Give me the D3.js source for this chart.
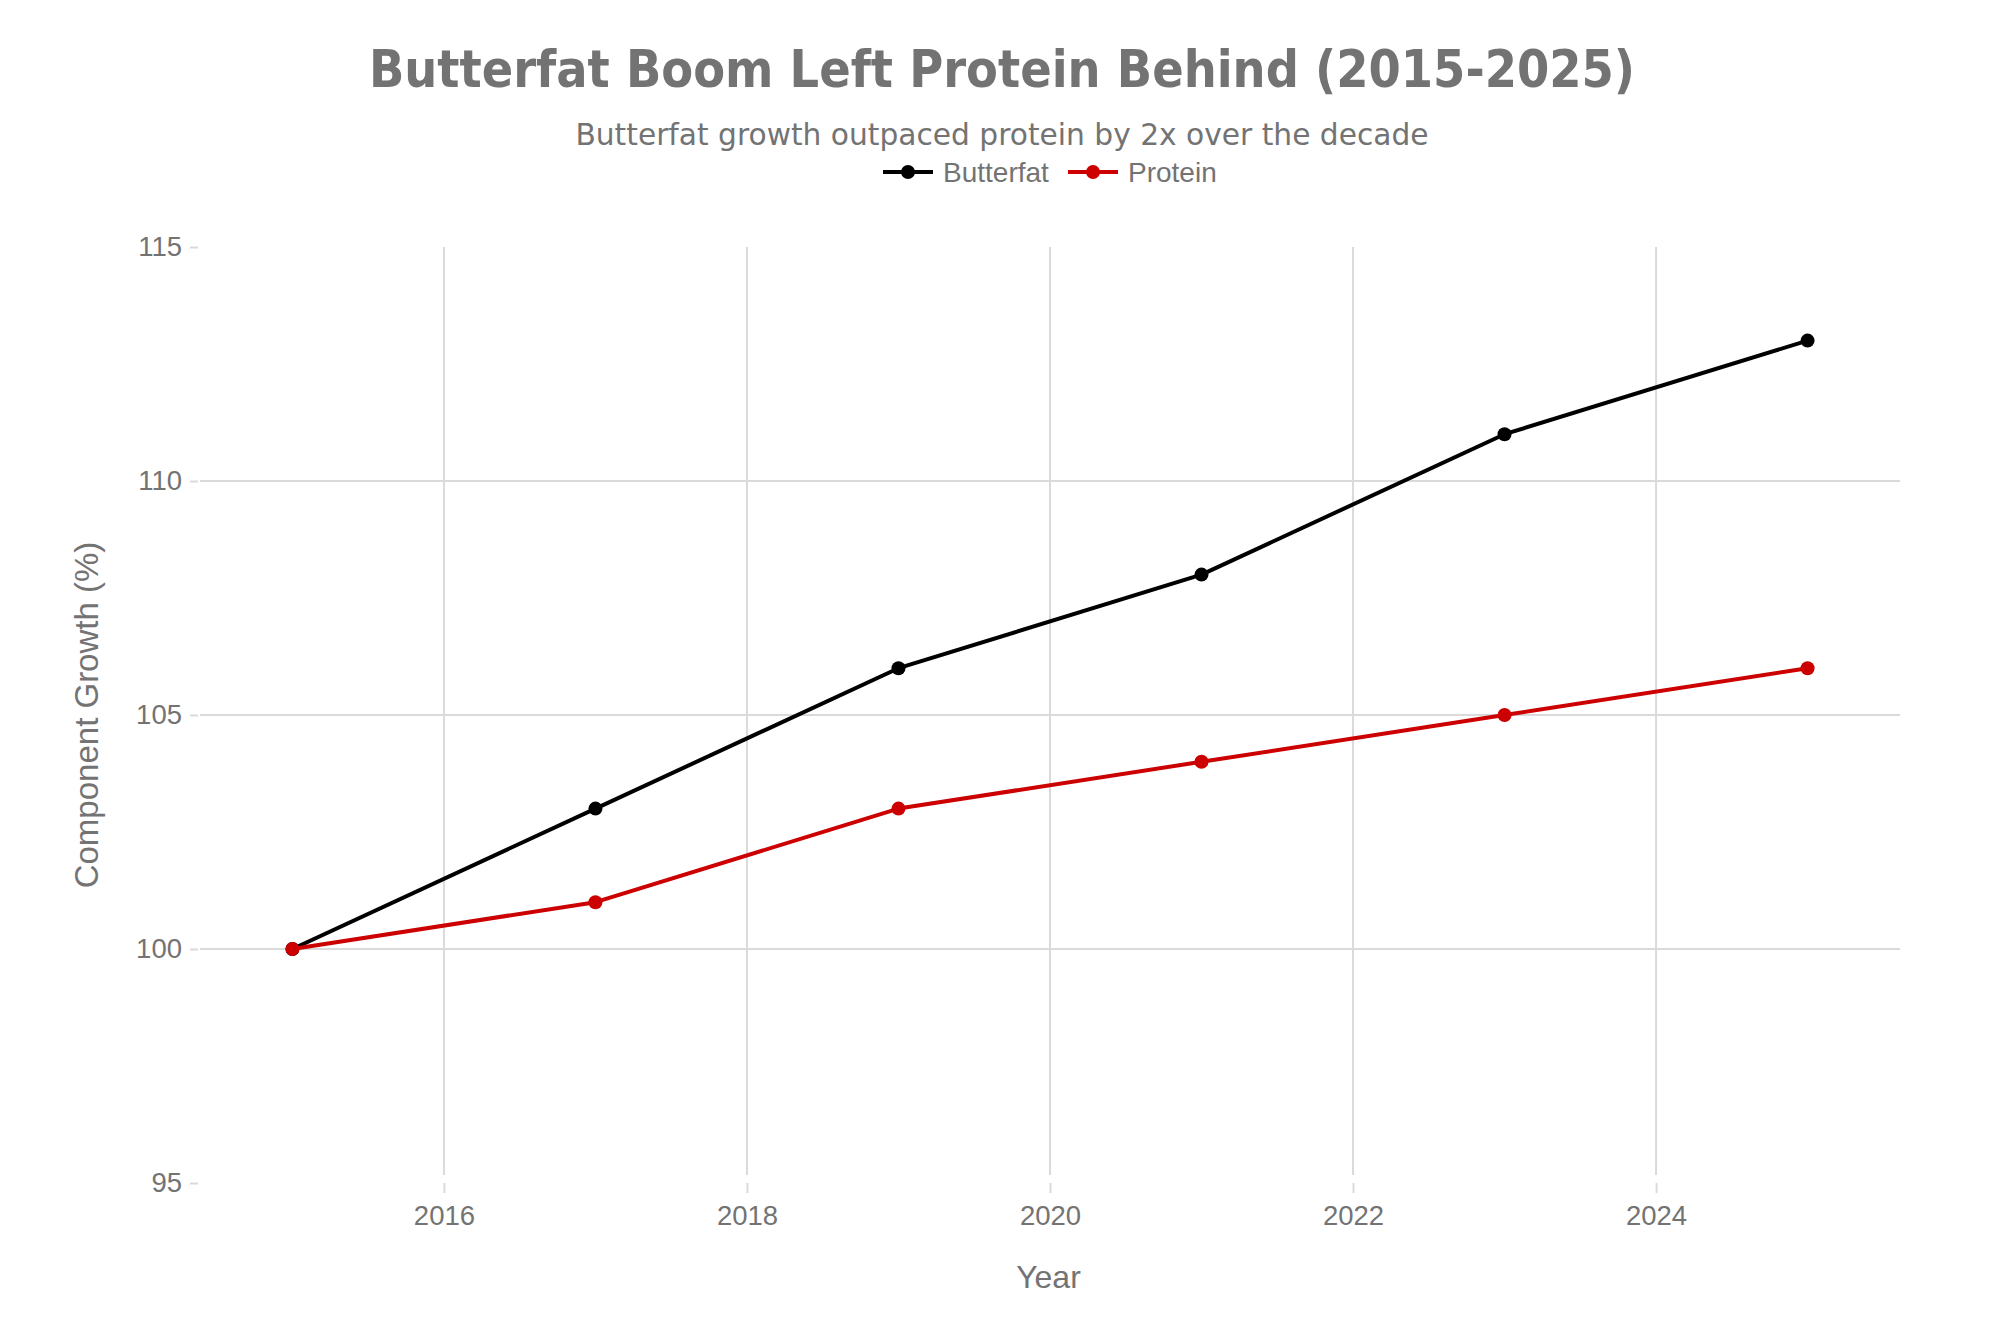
<!DOCTYPE html>
<html>
<head>
<meta charset="utf-8">
<script src="https://cdn.jsdelivr.net/npm/d3@7"></script>
<style>
  html, body { margin: 0; padding: 0; background: #fff; }
  svg { display: block; }
</style>
</head>
<body>
<svg id="chart"></svg>
<script>
// data
const years = [2015, 2017, 2019, 2021, 2023, 2025];
const butterfat = [100, 103, 106, 108, 111, 113];
const protein = [100, 101, 103, 104, 105, 106];
const yTicks = [95, 100, 105, 110, 115];
const xTicks = [2016, 2018, 2020, 2022, 2024];

const W = 2000, H = 1333;
const margin = { top: 247, right: 100, bottom: 150, left: 200 };
const textColor = '#737373';
const sans = '"Liberation Sans", Arial, Helvetica, sans-serif';

const svg = d3.select('#chart').attr('width', W).attr('height', H);

const x = d3.scaleLinear()
  .domain([2014.39, 2025.61])
  .range([margin.left, W - margin.right]);

const y = d3.scaleLinear()
  .domain([95, 115])
  .range([H - margin.bottom, margin.top]);

// grid
svg.append('g')
  .selectAll('line')
  .data(xTicks)
  .join('line')
  .attr('x1', d => x(d)).attr('x2', d => x(d))
  .attr('y1', y(115)).attr('y2', y(95) - 8)
  .attr('stroke', '#dadada').attr('stroke-width', 2);

svg.append('g')
  .selectAll('line')
  .data(yTicks.filter(d => d > 95 && d < 115))
  .join('line')
  .attr('x1', margin.left).attr('x2', W - margin.right)
  .attr('y1', d => y(d)).attr('y2', d => y(d))
  .attr('stroke', '#dadada').attr('stroke-width', 2);

// axes
const yAxis = svg.append('g')
  .attr('transform', `translate(${margin.left - 2},0)`)
  .call(d3.axisLeft(y).tickValues(yTicks).tickSize(8).tickPadding(8));
const xAxis = svg.append('g')
  .attr('transform', `translate(0,${y(95)})`)
  .call(d3.axisBottom(x).tickValues(xTicks).tickFormat(d3.format('d')).tickSize(10).tickPadding(12));

[yAxis, xAxis].forEach(g => {
  g.select('.domain').remove();
  g.selectAll('.tick line').attr('stroke', '#dadada').attr('stroke-width', 2);
  g.selectAll('.tick text')
    .attr('fill', textColor)
    .style('font-family', sans)
    .style('font-size', '27.5px');
});

// axis titles
svg.append('text')
  .attr('x', x(2019.97) + 3).attr('y', 1288)
  .attr('text-anchor', 'middle')
  .attr('fill', textColor)
  .style('font-family', sans).style('font-size', '32px')
  .text('Year');

svg.append('text')
  .attr('transform', `translate(98,${(y(95) + y(115)) / 2}) rotate(-90)`)
  .attr('text-anchor', 'middle')
  .attr('fill', textColor)
  .style('font-family', sans).style('font-size', '33px')
  .text('Component Growth (%)');

// series
const series = [
  { name: 'Butterfat', values: butterfat, color: '#000000' },
  { name: 'Protein', values: protein, color: '#cc0000' }
];

const line = d3.line()
  .x((d, i) => x(years[i]))
  .y(d => y(d));

series.forEach(s => {
  svg.append('path')
    .datum(s.values)
    .attr('d', line)
    .attr('fill', 'none')
    .attr('stroke', s.color)
    .attr('stroke-width', 4)
    .attr('stroke-linejoin', 'round');

  svg.append('g')
    .selectAll('circle')
    .data(s.values)
    .join('circle')
    .attr('cx', (d, i) => x(years[i]))
    .attr('cy', d => y(d))
    .attr('r', 7)
    .attr('fill', s.color);
});

// title
svg.append('text')
  .attr('x', 1002).attr('y', 87)
  .attr('text-anchor', 'middle')
  .attr('fill', textColor)
  .style('font-family', '"DejaVu Sans Condensed", "DejaVu Sans", sans-serif')
  .style('font-stretch', 'condensed')
  .style('font-weight', 'bold')
  .style('font-size', '51.6px')
  .text('Butterfat Boom Left Protein Behind (2015-2025)');

svg.append('text')
  .attr('x', 1002).attr('y', 145)
  .attr('text-anchor', 'middle')
  .attr('fill', textColor)
  .style('font-family', '"DejaVu Sans", sans-serif')
  .style('font-size', '29.7px')
  .text('Butterfat growth outpaced protein by 2x over the decade');

// legend
const legendX = [883, 1068];
const legend = svg.append('g')
  .selectAll('g')
  .data(series)
  .join('g')
  .attr('transform', (d, i) => `translate(${legendX[i]},172)`);

legend.append('line')
  .attr('x1', 0).attr('x2', 50)
  .attr('stroke', d => d.color)
  .attr('stroke-width', 4);
legend.append('circle')
  .attr('cx', 25).attr('r', 7)
  .attr('fill', d => d.color);
legend.append('text')
  .attr('x', 60).attr('y', 10)
  .attr('fill', textColor)
  .style('font-family', sans).style('font-size', '28px')
  .text(d => d.name);
</script>
</body>
</html>
